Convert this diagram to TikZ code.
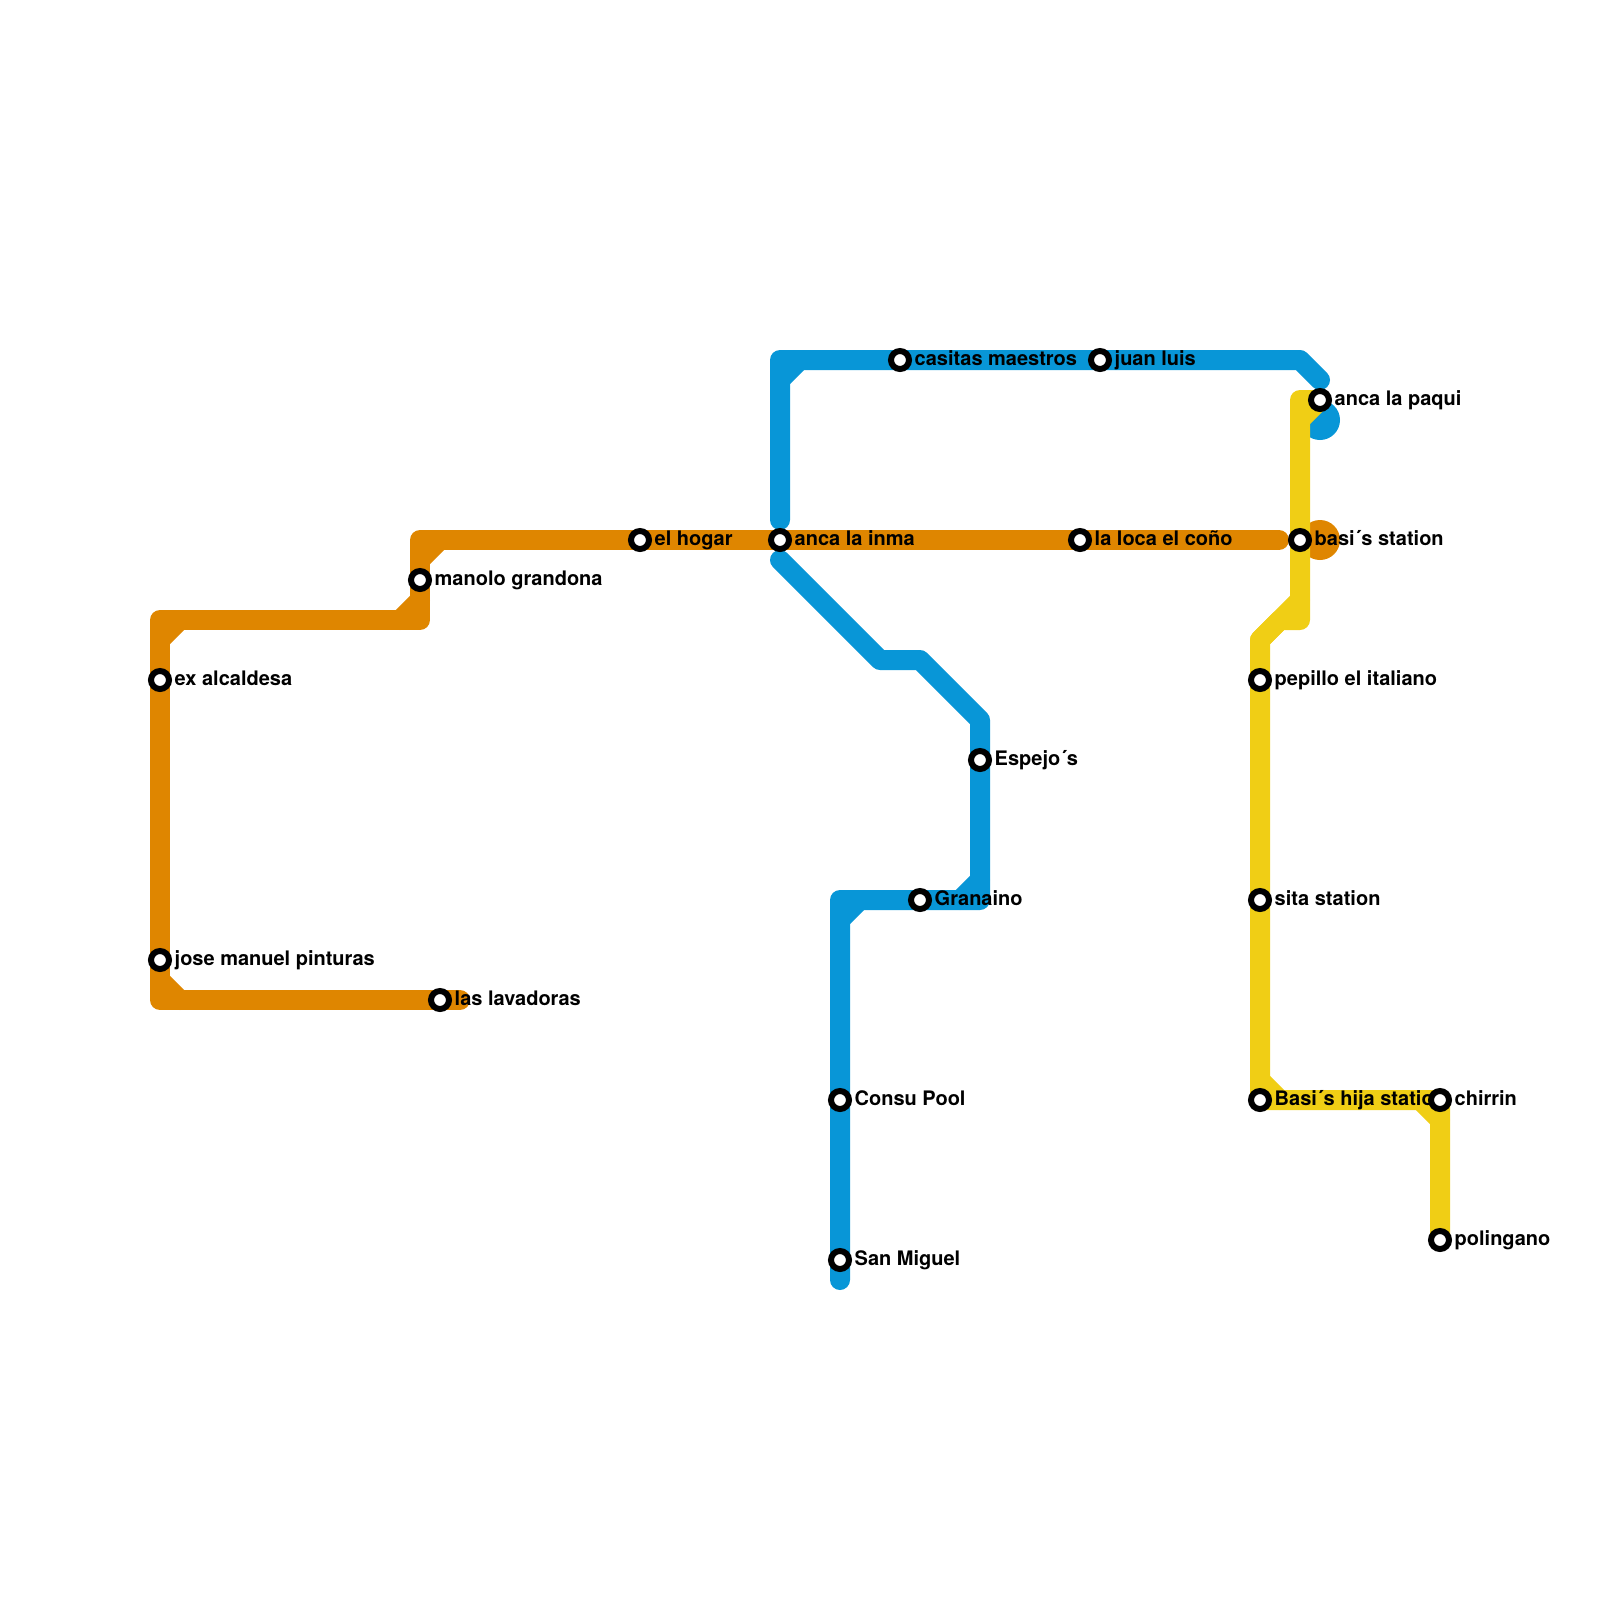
\documentclass[tikz,border=0pt]{standalone}
\usepackage{fontspec}
\setmainfont{TeX Gyre Heros}
\usepackage{xcolor}
\usetikzlibrary{positioning}
\definecolor{lineblue}{HTML}{0896D7}
\definecolor{lineorange}{HTML}{DF8600}
\definecolor{lineyellow}{HTML}{F0CE15}
\pgfdeclarelayer{lines}
\pgfsetlayers{lines,main}

\begin{document}
\begin{tikzpicture}[
    x=0.28125bp,
    y=-0.28125bp,
    font=\fontsize{5.645pt}{6pt}\selectfont\bfseries,
    node distance=0.5625bp,
    stn/.style={
      circle,
      draw=black,
      fill=white,
      line width=1.6875bp,
      minimum size=5.0625bp,
      inner sep=0pt
    },
    lbl/.style={
      inner sep=0pt,
      text height=3.9375bp,
      text depth=1.125bp,
      text=black
    },
    blob/.style={circle, minimum size=11.25bp, inner sep=0pt},
    track/.style={line width=5.625bp, line cap=round, line join=round}
  ]
    \useasboundingbox (0,0) rectangle (1600,1600);

    \node[stn] (exalcaldesa) at (160,680) {};
    \node[lbl, right=of exalcaldesa] (exalcaldesaL) {ex alcaldesa};
    \node[stn] (josemanuel) at (160,960) {};
    \node[lbl, right=of josemanuel] (josemanuelL) {jose manuel pinturas};
    \node[stn] (lavadoras) at (440,1000) {};
    \node[lbl, right=of lavadoras] (lavadorasL) {las lavadoras};
    \node[stn] (manolo) at (420,580) {};
    \node[lbl, right=of manolo] (manoloL) {manolo grandona};
    \node[stn] (hogar) at (640,540) {};
    \node[lbl, right=of hogar] (hogarL) {el hogar};
    \node[stn] (inma) at (780,540) {};
    \node[lbl, right=of inma] (inmaL) {anca la inma};
    \node[stn] (laloca) at (1080,540) {};
    \node[lbl, right=of laloca] (lalocaL) {la loca el coño};
    \node[stn] (basi) at (1300,540) {};
    \node[lbl, right=of basi] (basiL) {basi´s station};

    \node[stn] (casitas) at (900,360) {};
    \node[lbl, right=of casitas] (casitasL) {casitas maestros};
    \node[stn] (juanluis) at (1100,360) {};
    \node[lbl, right=of juanluis] (juanluisL) {juan luis};
    \node[stn] (paqui) at (1320,400) {};
    \node[lbl, right=of paqui] (paquiL) {anca la paqui};
    \node[stn] (espejo) at (980,760) {};
    \node[lbl, right=of espejo] (espejoL) {Espejo´s};
    \node[stn] (granaino) at (920,900) {};
    \node[lbl, right=of granaino] (granainoL) {Granaino};
    \node[stn] (consu) at (840,1100) {};
    \node[lbl, right=of consu] (consuL) {Consu Pool};
    \node[stn] (sanmiguel) at (840,1260) {};
    \node[lbl, right=of sanmiguel] (sanmiguelL) {San Miguel};

    \node[stn] (pepillo) at (1260,680) {};
    \node[lbl, right=of pepillo] (pepilloL) {pepillo el italiano};
    \node[stn] (sita) at (1260,900) {};
    \node[lbl, right=of sita] (sitaL) {sita station};
    \node[stn] (basihija) at (1260,1100) {};
    \node[lbl, right=of basihija] (basihijaL) {Basi´s hija station};
    \node[stn] (chirrin) at (1440,1100) {};
    \node[lbl, right=of chirrin] (chirrinL) {chirrin};
    \node[stn] (polingano) at (1440,1240) {};
    \node[lbl, right=of polingano] (polinganoL) {polingano};

    \begin{pgfonlayer}{lines}
      \node[blob, fill=lineorange] (orangeblob) at (1320,540) {};
      \node[blob, fill=lineblue] (blueblob) at (1320,420) {};

      \coordinate (o1) at (460,1000);
      \coordinate (o2) at (160,1000);
      \coordinate (o3) at (160,620);
      \coordinate (o4) at (420,620);
      \coordinate (o5) at (420,540);
      \coordinate (o6) at (1279,540);
      \draw[track, lineorange] (o1) -- (lavadoras.center) -- (o2) -- (josemanuel.center)
        -- (exalcaldesa.center) -- (o3) -- (o4) -- (manolo.center) -- (o5)
        -- (hogar.center) -- (inma.center) -- (laloca.center) -- (o6);
      \coordinate (o7) at (160,980);
      \coordinate (o8) at (180,1000);
      \coordinate (o9) at (160,640);
      \coordinate (o10) at (180,620);
      \coordinate (o11) at (400,620);
      \coordinate (o12) at (420,600);
      \coordinate (o13) at (420,560);
      \coordinate (o14) at (440,540);
      \draw[track, lineorange] (o7) -- (o8);
      \draw[track, lineorange] (o9) -- (o10);
      \draw[track, lineorange] (o11) -- (o12);
      \draw[track, lineorange] (o13) -- (o14);

      \coordinate (b1) at (780,520);
      \coordinate (b2) at (780,360);
      \coordinate (b3) at (1300,360);
      \coordinate (b4) at (1320,380);
      \coordinate (b5) at (780,380);
      \coordinate (b6) at (800,360);
      \draw[track, lineblue] (b1) -- (b2) -- (casitas.center) -- (juanluis.center) -- (b3) -- (b4);
      \draw[track, lineblue] (b5) -- (b6);
      \coordinate (b7) at (780,560);
      \coordinate (b8) at (880,660);
      \coordinate (b9) at (920,660);
      \coordinate (b10) at (980,720);
      \coordinate (b11) at (980,900);
      \coordinate (b12) at (840,900);
      \coordinate (b13) at (840,1280);
      \coordinate (b14) at (960,900);
      \coordinate (b15) at (980,880);
      \coordinate (b16) at (840,920);
      \coordinate (b17) at (860,900);
      \draw[track, lineblue] (b7) -- (b8) -- (b9) -- (b10) -- (espejo.center) -- (b11)
        -- (granaino.center) -- (b12) -- (consu.center) -- (sanmiguel.center) -- (b13);
      \draw[track, lineblue] (b14) -- (b15);
      \draw[track, lineblue] (b16) -- (b17);

      \coordinate (y1) at (1300,400);
      \coordinate (y2) at (1300,620);
      \coordinate (y3) at (1280,620);
      \coordinate (y4) at (1260,640);
      \coordinate (y5) at (1300,420);
      \coordinate (y6) at (1300,600);
      \coordinate (y7) at (1260,1080);
      \coordinate (y8) at (1280,1100);
      \coordinate (y9) at (1420,1100);
      \coordinate (y10) at (1440,1120);
      \draw[track, lineyellow] (paqui.center) -- (y1) -- (basi.center) -- (y2) -- (y3) -- (y4)
        -- (pepillo.center) -- (sita.center) -- (basihija.center) -- (chirrin.center) -- (polingano.center);
      \draw[track, lineyellow] (paqui.center) -- (y5);
      \draw[track, lineyellow] (y6) -- (y4);
      \draw[track, lineyellow] (y7) -- (y8);
      \draw[track, lineyellow] (y9) -- (y10);
    \end{pgfonlayer}
  \end{tikzpicture}
\end{document}
